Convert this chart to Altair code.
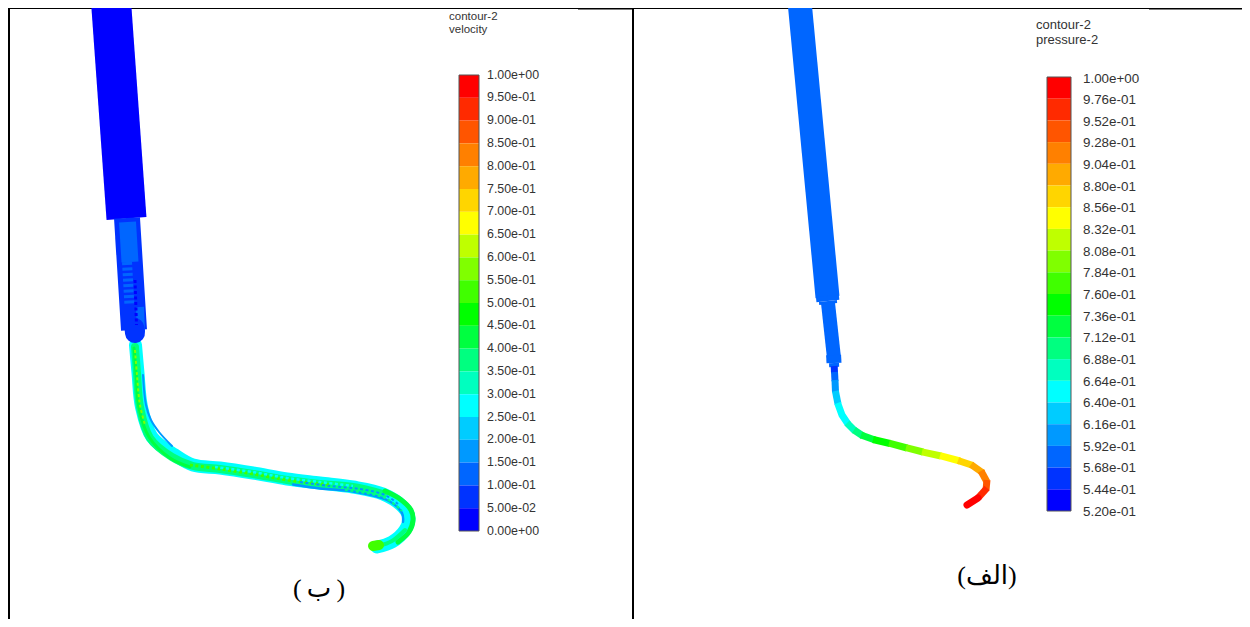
import altair as alt
import pandas as pd

# contour colour bands, top of the bar to the bottom
BAND_COLORS = ["#ff0000", "#ff2a00", "#ff5500", "#ff8000", "#ffaa00", "#ffd500", "#ffff00",
               "#bfff00", "#80ff00", "#40ff00", "#00ff00", "#00ff40", "#00ff80", "#00ffbf",
               "#00ffff", "#00ccff", "#0099ff", "#0066ff", "#0033ff", "#0000ff"]
VEL_LABELS = ["1.00e+00", "9.50e-01", "9.00e-01", "8.50e-01", "8.00e-01", "7.50e-01", "7.00e-01",
              "6.50e-01", "6.00e-01", "5.50e-01", "5.00e-01", "4.50e-01", "4.00e-01", "3.50e-01",
              "3.00e-01", "2.50e-01", "2.00e-01", "1.50e-01", "1.00e-01", "5.00e-02", "0.00e+00"]
PRES_LABELS = ["1.00e+00", "9.76e-01", "9.52e-01", "9.28e-01", "9.04e-01", "8.80e-01", "8.56e-01",
               "8.32e-01", "8.08e-01", "7.84e-01", "7.60e-01", "7.36e-01", "7.12e-01", "6.88e-01",
               "6.64e-01", "6.40e-01", "6.16e-01", "5.92e-01", "5.68e-01", "5.44e-01", "5.20e-01"]

# square-cut pipe sections: colour, width, x values, y values (in pixels)
PIPES = [
    ("#0000ff", 40, [110.9, 126.5], [0, 218.5]),
    ("#0033ff", 26, [127, 134], [218, 330]),
    ("#0066ff", 17, [127.5, 130], [222, 262]),
    ("#0066ff", 8, [140, 141], [307, 332]),
    ("#0066ff", 24, [799.4, 827.5], [0, 297]),
    ("#0066ff", 23, [827.4, 827.9], [296, 301]),
    ("#0066ff", 18, [827.9, 828.2], [301, 304]),
    ("#0066ff", 14, [828, 834], [303, 358]),
    ("#0066ff", 15, [833.6, 834], [355, 363]),
    ("#0066ff", 10, [834, 834.2], [363, 367]),
    ("#0033ff", 7, [834.2, 834.5], [366, 373]),
    ("#0066ff", 7, [834.5, 835], [372, 381]),
    ("#0099ff", 7, [835, 835.5], [380, 392]),
    ("#00ccff", 7, [835.4, 838], [391, 404]),
    ("#00ffff", 7, [837.6, 842, 848], [403, 415, 424]),
    ("#00ffbf", 7, [847, 855], [423, 431]),
    ("#00ff80", 7, [854, 863], [430, 436]),
    ("#00ff40", 7, [861, 875], [435, 440]),
    ("#00ff00", 7, [873, 890], [439.5, 443.5]),
    ("#40ff00", 7, [889, 907], [443.2, 448]),
    ("#80ff00", 7, [906, 923], [447.7, 452]),
    ("#bfff00", 7, [922, 941], [451.8, 456]),
    ("#ffff00", 7, [940, 960], [455.7, 461]),
    ("#ffd500", 7, [958, 973], [460.5, 465.5]),
    ("#ffaa00", 7, [971, 983], [464.5, 473]),
    ("#ff8000", 7, [981, 987], [471, 482]),
    ("#ff5500", 7, [987, 986], [480, 490]),
    ("#ff2a00", 7, [987, 978], [488, 498]),
]

# round-ended strands of the thin tube and soft patches, drawn in this order
CENTER_X = [135.5, 138, 141.5, 152, 175, 193, 220, 253, 287, 320, 353, 383, 403, 409, 405, 392, 377]
CENTER_Y = [345, 373, 407, 437, 455, 465, 468, 473, 479, 483, 487, 494, 507, 518, 530, 542, 547]
STRANDS = [
    ("#00ffff", 13, CENTER_X, CENTER_Y),
    ("#00ff80", 8, [135, 137, 140, 150, 172, 193, 220, 253, 287, 320, 353, 383],
     [347, 373, 407, 438, 457, 466, 469, 474, 480, 484, 487, 494]),
    ("#0099ff", 2, [143, 146, 151, 159, 172], [375, 405, 420, 432, 446]),
    ("#00ff40", 3, [134, 136, 139, 149, 170, 190], [348, 373, 408, 437, 458, 467]),
    ("#0099ff", 2.5, [293, 320, 353, 387, 402, 403], [484.5, 488.5, 491.5, 500, 513, 522]),
    ("#00ff40", 5, [385, 400, 411, 413, 409, 398], [491, 499, 510, 520, 532, 542]),
    ("#00ff80", 4, [405, 392, 378], [530, 541, 546]),
    ("#40ff00", 10, [373, 379], [546, 545]),
    ("#ff0000", 7, [978, 967], [498, 505]),
    ("#0033ff", 20, [134.5, 135], [328, 333]),
]

# speckled strands (mesh texture along the thin tube and the narrow pipe)
SPECKLES = [
    ("#0066ff", 10, [127, 129.5], [262, 306]),
    ("#0000ff", 3, [135, 136.5], [280, 325]),
    ("#80ff00", 2, [135, 137, 140, 145], [350, 375, 405, 425]),
    ("#40ff00", 3, [190, 220, 253, 287, 330], [465, 469, 474, 480, 485]),
    ("#00ffff", 2.5, [215, 253, 287, 320, 353], [467, 472, 478, 482, 486]),
    ("#0099ff", 2, [300, 330, 360, 385, 398], [482, 486, 489, 495, 504]),
    ("#00ff80", 2, [345, 385, 402], [490, 498, 511]),
]

frame_top = [(8, 578, 1), (578, 633, 1.5), (633, 1149, 1), (1149, 1242, 1.5)]
frame_side = [9, 633]


def rows(items, prefix):
    out = []
    for k, (color, width, xs, ys) in enumerate(items):
        for i, (x, y) in enumerate(zip(xs, ys)):
            out.append({"seg": f"{prefix}{k:03d}", "i": i, "x": x, "y": y, "c": color, "w": width})
    return pd.DataFrame(out)


X = alt.Scale(domain=[8, 1242], range=[0, 1234], nice=False, zero=False)
Y = alt.Scale(domain=[8, 619], range=[0, 611], nice=False, zero=False)


def tube(df, **mark):
    return alt.Chart(df).mark_line(strokeJoin="round", **mark).encode(
        x=alt.X("x:Q", scale=X, axis=None),
        y=alt.Y("y:Q", scale=Y, axis=None),
        detail="seg:N",
        order="i:Q",
        color=alt.Color("c:N", scale=None),
        strokeWidth=alt.StrokeWidth("w:Q", scale=None),
    )


def colorbar(labels, lo_px, hi_px, bar_left, bar_right, label_x, fs, txt_lo, txt_hi):
    vals = [float(s) for s in labels]
    bands = pd.DataFrame({"hi": vals[:-1], "lo": vals[1:], "c": BAND_COLORS})
    ticks = pd.DataFrame({"v": vals, "t": labels})
    outline = pd.DataFrame({"hi": [vals[0]], "lo": [vals[-1]]})
    sc = alt.Scale(domain=[vals[-1], vals[0]], range=[lo_px - 8, hi_px - 8], nice=False, zero=False)
    bar = alt.Chart(bands).mark_rect().encode(
        x=alt.value(bar_left - 8), x2=alt.value(bar_right - 8),
        y=alt.Y("lo:Q", scale=sc, axis=None), y2="hi:Q",
        color=alt.Color("c:N", scale=None),
    )
    box = alt.Chart(outline).mark_rect(fill=None, stroke="#555555", strokeWidth=1).encode(
        x=alt.value(bar_left - 8), x2=alt.value(bar_right - 8),
        y=alt.Y("lo:Q", scale=sc, axis=None), y2="hi:Q",
    )
    txt_sc = alt.Scale(domain=[vals[-1], vals[0]], range=[txt_lo - 8, txt_hi - 8], nice=False, zero=False)
    txt = alt.Chart(ticks).mark_text(align="left", baseline="middle", fontSize=fs, font="Liberation Sans",
                                     color="#333333").encode(
        x=alt.value(label_x - 8),
        y=alt.Y("v:Q", scale=txt_sc, axis=None),
        text="t:N",
    )
    return [bar, box, txt]


def note(text, x, y, fs, font="Liberation Sans", color="#333333", align="left"):
    return alt.Chart(pd.DataFrame({"t": [text]})).mark_text(
        align=align, baseline="middle", fontSize=fs, font=font, color=color
    ).encode(x=alt.value(x - 8), y=alt.value(y - 8), text="t:N")


def hline(x0, x1, w):
    return alt.Chart(pd.DataFrame({"a": [x0]})).mark_rule(color="black", strokeWidth=w * 2).encode(
        x=alt.value(x0 - 8), x2=alt.value(x1 - 8), y=alt.value(0))


def vline(x):
    return alt.Chart(pd.DataFrame({"a": [x]})).mark_rule(color="black", strokeWidth=2).encode(
        x=alt.value(x - 8), y=alt.value(0), y2=alt.value(611))


layers = [hline(*t) for t in frame_top] + [vline(x) for x in frame_side]
layers += [
    tube(rows(PIPES, "p"), strokeCap="butt"),
    tube(rows(STRANDS, "s"), strokeCap="round", interpolate="catmull-rom"),
    tube(rows(SPECKLES, "d"), strokeCap="butt", interpolate="catmull-rom", strokeDash=[3, 2.5]),
]
layers += colorbar(VEL_LABELS, 531, 75, 459, 479, 487, 12.4, 530.5, 74.5)
layers += colorbar(PRES_LABELS, 511, 77, 1047, 1071, 1083, 13.4, 511.5, 78.5)
layers += [
    note("contour-2", 449, 17, 11.5), note("velocity", 449, 30, 11.5),
    note("contour-2", 1036, 25, 13), note("pressure-2", 1036, 40, 13),
    note("(\u2009ب\u2009)", 319, 589, 26, font="Liberation Serif, DejaVu Sans", color="black", align="center"),
    note("(الف)", 987, 576, 26, font="Liberation Serif, DejaVu Sans", color="black", align="center"),
]

chart = alt.layer(*layers).resolve_scale(x="independent", y="independent", color="independent").properties(
    width=1234, height=611, padding=0, autosize="none", background="white"
).configure_view(stroke=None)

chart.save("out.html", embed_options={"renderer": "svg", "actions": False})
